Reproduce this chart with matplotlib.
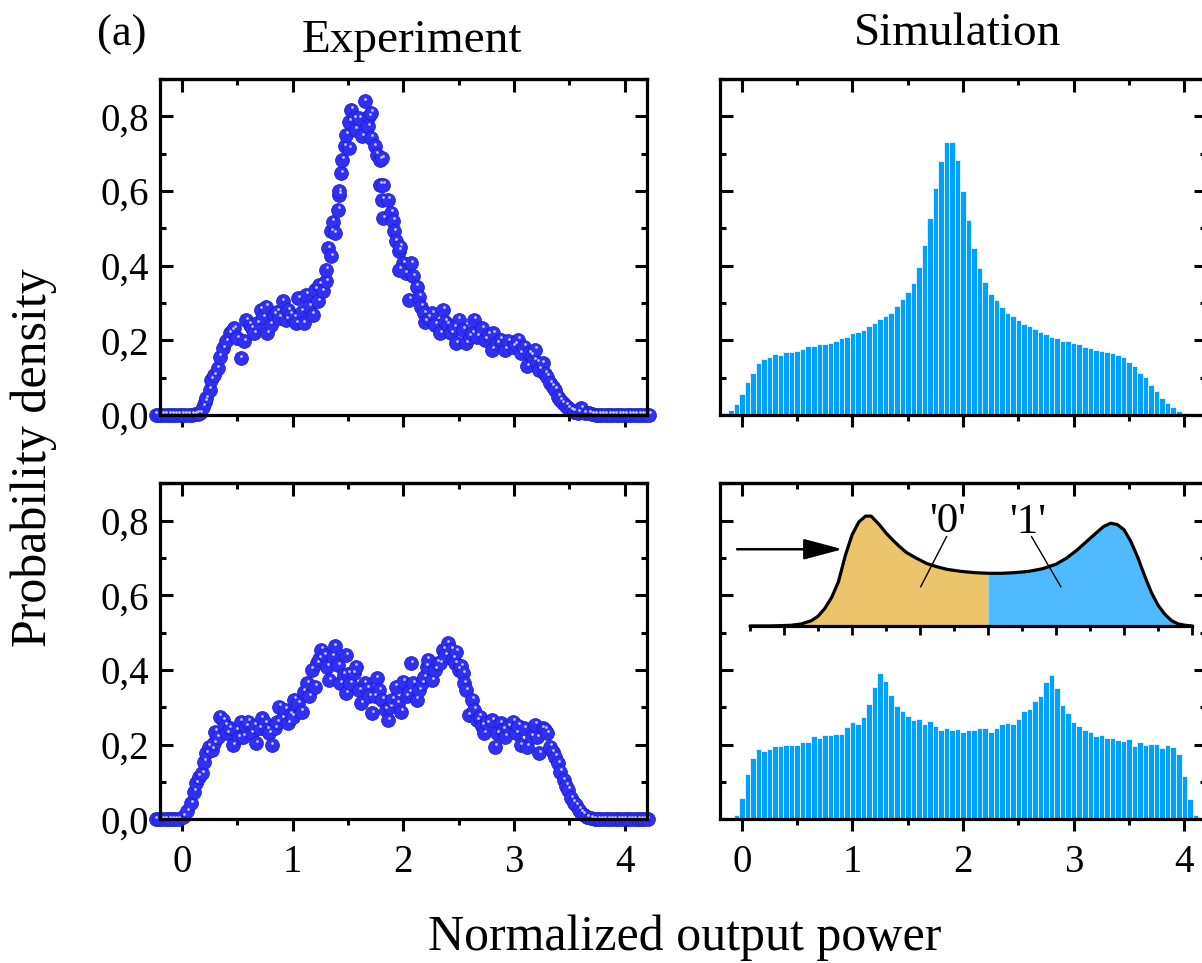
import numpy as np
import matplotlib
matplotlib.use('Agg')
import matplotlib.pyplot as plt
from matplotlib.ticker import MultipleLocator
from matplotlib.transforms import ScaledTranslation

plt.rcParams['font.family'] = ['Liberation Serif', 'DejaVu Serif']

# ---- data ----
# experiment, upper panel (single peak)
exp_top_x = [-0.24, -0.21, -0.18, -0.15, -0.12, -0.09, -0.06, -0.03, 0.00, 0.03, 0.06, 0.09, 0.12, 0.14,
             0.16, 0.19, 0.21, 0.22, 0.25, 0.26, 0.29, 0.32, 0.34, 0.37, 0.40, 0.43, 0.45, 0.47, 0.50,
             0.53, 0.56, 0.58, 0.61, 0.63, 0.65, 0.68, 0.71, 0.73, 0.76, 0.77, 0.80, 0.83, 0.86, 0.88,
             0.91, 0.94, 0.96, 0.98, 1.01, 1.03, 1.05, 1.08, 1.10, 1.12, 1.15, 1.18, 1.20, 1.23, 1.24,
             1.27, 1.30, 1.30, 1.32, 1.35, 1.35, 1.36, 1.38, 1.41, 1.42, 1.42, 1.44, 1.45, 1.47, 1.48,
             1.51, 1.51, 1.53, 1.56, 1.57, 1.60, 1.63, 1.65, 1.68, 1.69, 1.71, 1.71, 1.74, 1.76, 1.79,
             1.81, 1.79, 1.82, 1.81, 1.86, 1.82, 1.89, 1.91, 1.92, 1.93, 1.96, 1.97, 2.00, 2.02, 1.96,
             2.05, 2.07, 2.09, 2.12, 2.14, 2.16, 2.19, 2.20, 2.23, 2.26, 2.29, 2.33, 2.36, 2.38, 2.40,
             2.43, 2.46, 2.48, 2.50, 2.54, 2.57, 2.60, 2.62, 2.64, 2.67, 2.71, 2.74, 2.77, 2.80, 2.81,
             2.85, 2.88, 2.92, 2.95, 2.99, 3.01, 3.04, 3.06, 3.09, 3.12, 3.14, 3.16, 3.18, 3.19, 3.21,
             3.23, 3.26, 3.28, 3.30, 3.33, 3.35, 3.37, 3.40, 3.42, 3.44, 3.47, 3.49, 3.52, 3.54, 3.58,
             3.61, 3.64, 3.68, 3.71, 3.74, 3.77, 3.80, 3.83, 3.86, 3.89, 3.92, 3.95, 3.98, 4.01, 4.04,
             4.07, 4.10, 4.13, 4.16, 4.19, 4.22]
exp_top_y = [0, 0, 0, 0, 0, 0, 0, 0, 0, 0, 0.001, 0.001, 0.002, 0.003,
             0.004, 0.022, 0.035, 0.045, 0.067, 0.094, 0.107, 0.125, 0.156, 0.179, 0.197, 0.219, 0.225, 0.232, 0.206,
             0.152, 0.197, 0.254, 0.241, 0.232, 0.219, 0.246, 0.282, 0.262, 0.290, 0.219, 0.241, 0.268, 0.277, 0.260,
             0.304, 0.255, 0.280, 0.268, 0.260, 0.246, 0.313, 0.277, 0.246, 0.322, 0.290, 0.268, 0.335, 0.304, 0.349,
             0.331, 0.358, 0.389, 0.447, 0.425, 0.492, 0.518, 0.487, 0.550, 0.590, 0.599, 0.648, 0.684, 0.720, 0.751,
             0.715, 0.786, 0.818, 0.795, 0.764, 0.795, 0.746, 0.840, 0.773, 0.800, 0.809, 0.742, 0.720, 0.697, 0.684,
             0.688, 0.617, 0.617, 0.577, 0.577, 0.527, 0.541, 0.520, 0.492, 0.465, 0.440, 0.451, 0.407, 0.380, 0.389,
             0.308, 0.407, 0.371, 0.344, 0.317, 0.290, 0.273, 0.250, 0.260, 0.273, 0.241, 0.219, 0.282, 0.250, 0.241,
             0.219, 0.235, 0.192, 0.255, 0.228, 0.192, 0.210, 0.219, 0.255, 0.210, 0.232, 0.201, 0.215, 0.174, 0.219,
             0.192, 0.201, 0.174, 0.197, 0.183, 0.190, 0.201, 0.165, 0.183, 0.130, 0.165, 0.160, 0.147, 0.174, 0.140,
             0.121, 0.139, 0.110, 0.103, 0.085, 0.075, 0.067, 0.049, 0.040, 0.031, 0.024, 0.018, 0.012, 0.009, 0.006,
             0.018, 0.004, 0.004, 0.002, 0, 0, 0, 0, 0, 0, 0, 0, 0, 0, 0,
             0, 0, 0, 0, 0, 0]

# experiment, lower panel (two peaks)
exp_bot_x = [-0.24, -0.21, -0.18, -0.15, -0.12, -0.09, -0.06, -0.03, 0.01, 0.045, 0.08, 0.11, 0.13, 0.15,
             0.18, 0.20, 0.22, 0.24, 0.27, 0.29, 0.30, 0.32, 0.34, 0.37, 0.39, 0.41, 0.43, 0.46, 0.49,
             0.51, 0.53, 0.55, 0.58, 0.60, 0.63, 0.65, 0.67, 0.70, 0.72, 0.75, 0.77, 0.79, 0.81, 0.84,
             0.86, 0.88, 0.91, 0.93, 0.96, 0.98, 1.00, 1.01, 1.05, 1.08, 1.10, 1.13, 1.15, 1.17, 1.20,
             1.22, 1.24, 1.26, 1.29, 1.31, 1.33, 1.36, 1.38, 1.41, 1.43, 1.46, 1.48, 1.48, 1.50, 1.52,
             1.55, 1.57, 1.60, 1.62, 1.65, 1.67, 1.69, 1.72, 1.74, 1.76, 1.78, 1.81, 1.84, 1.86, 1.88,
             1.90, 1.93, 1.95, 1.98, 2.00, 2.03, 2.05, 2.07, 2.09, 2.12, 2.14, 2.17, 2.19, 2.21, 2.22,
             2.26, 2.29, 2.31, 2.33, 2.36, 2.38, 2.40, 2.43, 2.45, 2.47, 2.48, 2.50, 2.52, 2.54, 2.55,
             2.57, 2.59, 2.62, 2.64, 2.67, 2.69, 2.71, 2.73, 2.76, 2.80, 2.83, 2.85, 2.88, 2.90, 2.92,
             2.95, 2.99, 3.02, 3.04, 3.06, 3.09, 3.12, 3.16, 3.19, 3.21, 3.23, 3.26, 3.28, 3.30, 3.33,
             3.35, 3.37, 3.40, 3.42, 3.45, 3.47, 3.49, 3.52, 3.54, 3.56, 3.59, 3.61, 3.63, 3.66, 3.70,
             3.73, 3.76, 3.79, 3.82, 3.85, 3.88, 3.91, 3.94, 3.97, 4.00, 4.03, 4.06, 4.09, 4.12, 4.15,
             4.18, 4.21]
exp_bot_y = [0, 0, 0, 0, 0, 0, 0, 0, 0.007, 0.021, 0.043, 0.074, 0.096, 0.114,
             0.123, 0.154, 0.177, 0.195, 0.186, 0.204, 0.235, 0.220, 0.275, 0.266, 0.250, 0.230, 0.244, 0.199, 0.239,
             0.220, 0.262, 0.221, 0.248, 0.262, 0.230, 0.250, 0.204, 0.244, 0.271, 0.257, 0.240, 0.230, 0.199, 0.244,
             0.260, 0.302, 0.271, 0.293, 0.257, 0.280, 0.275, 0.320, 0.311, 0.288, 0.342, 0.364, 0.330, 0.400, 0.355,
             0.418, 0.430, 0.454, 0.440, 0.409, 0.373, 0.436, 0.463, 0.413, 0.364, 0.387, 0.338, 0.440, 0.390, 0.364,
             0.391, 0.409, 0.346, 0.311, 0.364, 0.350, 0.329, 0.284, 0.330, 0.378, 0.346, 0.320, 0.293, 0.266, 0.300,
             0.320, 0.355, 0.311, 0.288, 0.369, 0.329, 0.340, 0.418, 0.364, 0.320, 0.346, 0.364, 0.380, 0.409, 0.427,
             0.373, 0.400, 0.420, 0.418, 0.454, 0.440, 0.471, 0.454, 0.430, 0.418, 0.449, 0.400, 0.410, 0.391, 0.364,
             0.346, 0.279, 0.320, 0.293, 0.266, 0.275, 0.250, 0.230, 0.257, 0.266, 0.195, 0.230, 0.257, 0.240, 0.221,
             0.248, 0.262, 0.230, 0.250, 0.199, 0.244, 0.195, 0.221, 0.253, 0.220, 0.177, 0.244, 0.240, 0.230, 0.195,
             0.180, 0.168, 0.150, 0.128, 0.105, 0.090, 0.079, 0.056, 0.045, 0.038, 0.025, 0.018, 0.012, 0.006, 0.003,
             0, 0, 0, 0, 0, 0, 0, 0, 0, 0, 0, 0, 0, 0, 0,
             0, 0]

# simulation histograms (bin width 0.05)
bin_w = 0.05
sim_top_centers = np.round(np.arange(-0.15, 4.101, bin_w), 2)
sim_top_vals = [0.006, 0.013, 0.030, 0.056, 0.088, 0.113, 0.140, 0.151, 0.156, 0.164, 0.161, 0.168, 0.168,
                0.172, 0.178, 0.185, 0.185, 0.189, 0.189, 0.193, 0.199, 0.206, 0.210, 0.220, 0.222, 0.228,
                0.238, 0.245, 0.256, 0.265, 0.273, 0.293, 0.310, 0.330, 0.353, 0.396, 0.456, 0.527, 0.608,
                0.680, 0.730, 0.730, 0.684, 0.600, 0.521, 0.446, 0.394, 0.357, 0.324, 0.307, 0.290, 0.274,
                0.265, 0.255, 0.244, 0.237, 0.229, 0.222, 0.216, 0.210, 0.206, 0.198, 0.197, 0.192, 0.190,
                0.181, 0.179, 0.174, 0.171, 0.168, 0.165, 0.160, 0.155, 0.142, 0.131, 0.113, 0.101, 0.080,
                0.063, 0.046, 0.031, 0.021, 0.011, 0.005, 0.004, 0.003]
sim_bot_centers = np.round(np.arange(-0.05, 4.101, bin_w), 2)
sim_bot_vals = [0.011, 0.058, 0.122, 0.165, 0.189, 0.182, 0.189, 0.196, 0.196, 0.200, 0.198, 0.200, 0.208,
                0.206, 0.223, 0.219, 0.227, 0.225, 0.229, 0.229, 0.248, 0.261, 0.254, 0.274, 0.309, 0.354,
                0.393, 0.371, 0.334, 0.304, 0.289, 0.278, 0.265, 0.270, 0.255, 0.263, 0.250, 0.239, 0.245,
                0.240, 0.243, 0.233, 0.240, 0.239, 0.245, 0.245, 0.235, 0.245, 0.256, 0.259, 0.256, 0.270,
                0.289, 0.295, 0.316, 0.330, 0.368, 0.387, 0.353, 0.307, 0.285, 0.262, 0.249, 0.240, 0.235,
                0.223, 0.225, 0.219, 0.219, 0.212, 0.210, 0.215, 0.196, 0.206, 0.199, 0.202, 0.202, 0.192,
                0.198, 0.195, 0.176, 0.115, 0.055, 0.011]

# inset: smoothed distribution, split into '0' and '1' at x = 3
inset_x = [-0.50, -0.20, 0.10, 0.25, 0.40, 0.50, 0.60, 0.70, 0.80, 0.90, 1.00, 1.10, 1.20, 1.28, 1.40,
           1.50, 1.60, 1.70, 1.80, 1.95, 2.10, 2.25, 2.40, 2.60, 2.80, 3.00, 3.20, 3.40, 3.60, 3.80,
           4.00, 4.15, 4.30, 4.45, 4.60, 4.70, 4.80, 4.90, 5.00, 5.10, 5.20, 5.30, 5.40, 5.50, 5.60,
           5.70, 5.80, 5.90, 6.00]
inset_y = [0.0, 0.0, 0.005, 0.015, 0.040, 0.075, 0.135, 0.220, 0.340, 0.540, 0.700, 0.800, 0.845, 0.845, 0.780,
           0.715, 0.660, 0.610, 0.565, 0.520, 0.480, 0.455, 0.435, 0.420, 0.410, 0.405, 0.405, 0.410, 0.420, 0.440,
           0.475, 0.520, 0.580, 0.650, 0.720, 0.765, 0.790, 0.780, 0.740, 0.650, 0.530, 0.390, 0.260, 0.160, 0.090,
           0.040, 0.015, 0.005, 0.0]
split_x = 3.0

y_ticks = [0.0, 0.2, 0.4, 0.6, 0.8]
y_tick_labels = ['0,0', '0,2', '0,4', '0,6', '0,8']
x_ticks = [0, 1, 2, 3, 4]

TICK_FS = 28
SPINE_W = 2.3


def style_axes(ax, show_xlabels, show_ylabels):
    ax.set_xlim(-0.2, 4.2)
    ax.set_ylim(0, 0.9)
    for s in ax.spines.values():
        s.set_linewidth(SPINE_W)
        s.set_zorder(5)
    ax.set_xticks(x_ticks)
    ax.xaxis.set_minor_locator(MultipleLocator(0.5))
    ax.set_yticks(y_ticks, y_tick_labels)
    ax.yaxis.set_minor_locator(MultipleLocator(0.1))
    ax.tick_params(axis='x', which='both', direction='out', width=2.2, labelsize=TICK_FS,
                   pad=9, labelbottom=show_xlabels)
    ax.tick_params(axis='x', which='major', length=8.5)
    ax.tick_params(axis='x', which='minor', length=4.5)
    ax.tick_params(axis='y', which='both', direction='in', left=True, right=True, width=2.2,
                   labelsize=TICK_FS, pad=8, labelleft=show_ylabels)
    ax.tick_params(axis='y', which='major', length=9)
    ax.tick_params(axis='y', which='minor', length=4.5)
    # ticks on the top edge point inward
    top = ax.secondary_xaxis('top')
    top.set_xticks(x_ticks)
    top.xaxis.set_minor_locator(MultipleLocator(0.5))
    top.tick_params(which='both', direction='in', width=2.2, labeltop=False)
    top.tick_params(which='major', length=9)
    top.tick_params(which='minor', length=4.5)
    top.spines['top'].set_linewidth(SPINE_W)


def draw_balls(ax, xs, ys):
    ax.scatter(xs, ys, s=100, facecolor='#2f2ff5', edgecolor='#1a1ac8', linewidth=0.5,
               clip_on=False, zorder=3)
    shift = ax.transData + ScaledTranslation(0.5 / 72, 1.8 / 72, ax.figure.dpi_scale_trans)
    ax.scatter(xs, ys, s=4, color='#c8c8ff', linewidth=0, transform=shift,
               clip_on=False, zorder=4)


fig = plt.figure(figsize=(12.02, 9.63), dpi=100)

left_x, right_x, panel_w = 0.1331, 0.5988, 0.4049
top_y, bot_y, panel_h = 0.5691, 0.1492, 0.3489

ax_et = fig.add_axes([left_x, top_y, panel_w, panel_h])
ax_st = fig.add_axes([right_x, top_y, panel_w, panel_h])
ax_eb = fig.add_axes([left_x, bot_y, panel_w, panel_h])
ax_sb = fig.add_axes([right_x, bot_y, panel_w, panel_h])

draw_balls(ax_et, exp_top_x, exp_top_y)
draw_balls(ax_eb, exp_bot_x, exp_bot_y)

bar_color = '#00a0ff'
ax_st.bar(sim_top_centers, sim_top_vals, width=bin_w, color=bar_color,
          edgecolor='#dff2ff', linewidth=0.7, zorder=2)
ax_sb.bar(sim_bot_centers, sim_bot_vals, width=bin_w, color=bar_color,
          edgecolor='#dff2ff', linewidth=0.7, zorder=2)

style_axes(ax_et, False, True)
style_axes(ax_st, False, False)
style_axes(ax_eb, True, True)
style_axes(ax_sb, True, False)

# inset with the split distribution
ins = fig.add_axes([0.624, 0.35, 0.3677, 0.135])
ins.patch.set_alpha(0)
ins.set_xlim(-0.5, 6.0)
ins.set_ylim(0, 1)
for side in ['left', 'right', 'top']:
    ins.spines[side].set_visible(False)
ins.spines['bottom'].set_linewidth(SPINE_W)
ins.xaxis.set_major_locator(MultipleLocator(1))
ins.xaxis.set_minor_locator(MultipleLocator(0.5))
ins.set_yticks([])
ins.tick_params(axis='x', which='both', direction='out', width=2.0, labelbottom=False)
ins.tick_params(axis='x', which='major', length=6.5)
ins.tick_params(axis='x', which='minor', length=3.5)

ix = np.array(inset_x)
iy = np.array(inset_y)
ins.fill_between(ix, 0, iy, where=ix <= split_x, color='#ebc46b', linewidth=0)
ins.fill_between(ix, 0, iy, where=ix >= split_x, color='#50baff', linewidth=0)
ins.plot(ix, iy, color='black', lw=2.3, solid_capstyle='round', clip_on=False)

ins.annotate('', xy=(0.86, 0.59), xytext=(-0.69, 0.59), annotation_clip=False,
             arrowprops=dict(arrowstyle='-|>,head_length=1.5,head_width=0.4', lw=1.8,
                             color='black', mutation_scale=16, shrinkA=0, shrinkB=0))

ins.text(2.41, 0.80, "'0'", fontsize=31, ha='center', va='center')
ins.text(3.59, 0.79, "'1'", fontsize=31, ha='center', va='center')
ins.plot([2.39, 2.01], [0.687, 0.302], color='black', lw=1.0)
ins.plot([3.64, 4.07], [0.687, 0.302], color='black', lw=1.0)

# titles and labels
fig.text(0.081, 0.953, '(a)', fontsize=32, ha='left', va='baseline')
fig.text(0.343, 0.946, 'Experiment', fontsize=34, ha='center', va='baseline')
fig.text(0.797, 0.953, 'Simulation', fontsize=34, ha='center', va='baseline')
fig.text(0.57, 0.014, 'Normalized output power', fontsize=36, ha='center', va='baseline')
fig.text(0.028, 0.525, 'Probability density', fontsize=36, ha='center', va='center',
         rotation=90)

fig.savefig('out.png', dpi=100)
